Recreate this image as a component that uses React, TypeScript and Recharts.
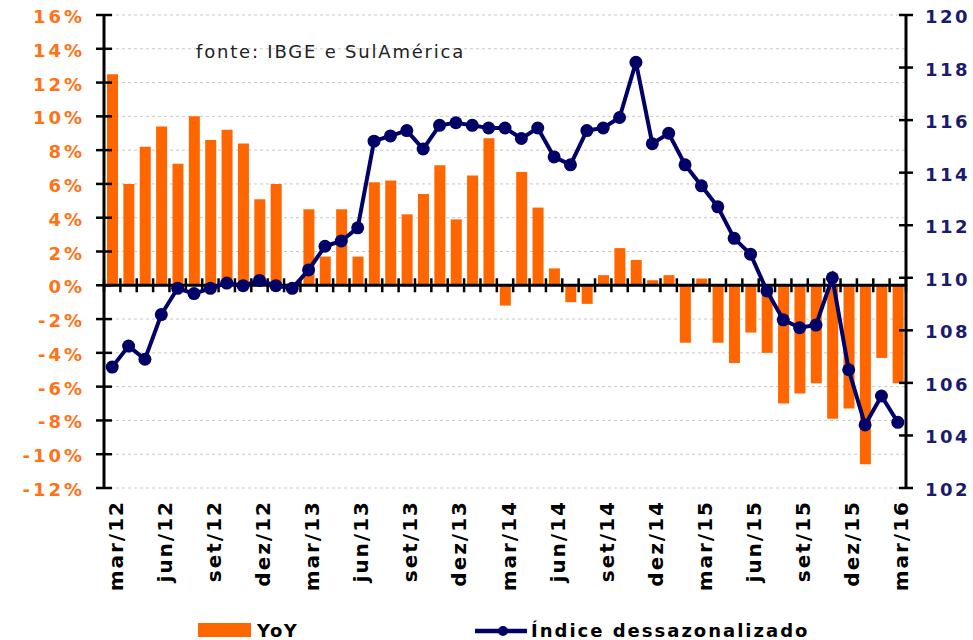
import React from 'react';
import { ComposedChart, Bar, Line, XAxis, YAxis, CartesianGrid, ReferenceLine } from 'recharts';

const months = [
  'mar/12', 'abr/12', 'mai/12', 'jun/12', 'jul/12', 'ago/12', 'set/12', 'out/12', 'nov/12', 'dez/12', 'jan/13', 'fev/13',
  'mar/13', 'abr/13', 'mai/13', 'jun/13', 'jul/13', 'ago/13', 'set/13', 'out/13', 'nov/13', 'dez/13', 'jan/14', 'fev/14',
  'mar/14', 'abr/14', 'mai/14', 'jun/14', 'jul/14', 'ago/14', 'set/14', 'out/14', 'nov/14', 'dez/14', 'jan/15', 'fev/15',
  'mar/15', 'abr/15', 'mai/15', 'jun/15', 'jul/15', 'ago/15', 'set/15', 'out/15', 'nov/15', 'dez/15', 'jan/16', 'fev/16',
  'mar/16',
];

// YoY, %
const yoy = [
  12.5, 6.0, 8.2, 9.4, 7.2, 10.0, 8.6, 9.2, 8.4, 5.1, 6.0, 0.1,
  4.5, 1.7, 4.5, 1.7, 6.1, 6.2, 4.2, 5.4, 7.1, 3.9, 6.5, 8.7,
  -1.2, 6.7, 4.6, 1.0, -1.0, -1.1, 0.6, 2.2, 1.5, 0.3, 0.6, -3.4,
  0.4, -3.4, -4.6, -2.8, -4.0, -7.0, -6.4, -5.8, -7.9, -7.3, -10.6, -4.3,
  -5.8,
];

// índice dessazonalizado
const indice = [
  106.6, 107.4, 106.9, 108.6, 109.6, 109.4, 109.6, 109.8, 109.7, 109.9, 109.7, 109.6,
  110.3, 111.2, 111.4, 111.9, 115.2, 115.4, 115.6, 114.9, 115.8, 115.9, 115.8, 115.7,
  115.7, 115.3, 115.7, 114.6, 114.3, 115.6, 115.7, 116.1, 118.2, 115.1, 115.5, 114.3,
  113.5, 112.7, 111.5, 110.9, 109.5, 108.4, 108.1, 108.2, 110.0, 106.5, 104.4, 105.5,
  104.5,
];

const leftTicks = [-12, -10, -8, -6, -4, -2, 0, 2, 4, 6, 8, 10, 12, 14, 16];
const rightTicks = [102, 104, 106, 108, 110, 112, 114, 116, 118, 120];

const data = months.map((m, i) => ({ month: m, yoy: yoy[i], indice: indice[i] }));

const ORANGE = '#FF6600';
const NAVY = '#000066';
const FONT = "'DejaVu Sans', Verdana, sans-serif";

const LeftTick = ({ x, y, payload }: any) => (
  <g>
    <line x1={x - 8} x2={x + 8} y1={y} y2={y} stroke="#000" strokeWidth={2.5} />
    <text x={x - 19} y={y + 8} textAnchor="end" fill="#FF7316" fontSize={18} fontWeight="bold"
      letterSpacing={3} fontFamily={FONT}>{payload.value}%</text>
  </g>
);

const RightTick = ({ x, y, payload }: any) => (
  <g>
    <line x1={x - 7} x2={x + 7} y1={y} y2={y} stroke="#000" strokeWidth={2.5} />
    <text x={x + 19} y={y + 8} textAnchor="start" fill="#1A1A6E" fontSize={18} fontWeight="bold"
      letterSpacing={2.5} fontFamily={FONT}>{payload.value}</text>
  </g>
);

const MonthTick = ({ x, y, payload }: any) => {
  const i = months.indexOf(payload.value);
  if (i % 3 !== 0) return null;
  const tx = x + 10.5;
  const ty = y + 12;
  return (
    <text x={tx} y={ty} transform={`rotate(-90, ${tx}, ${ty})`} textAnchor="end" fill="#000"
      fontSize={20} fontWeight="bold" letterSpacing={2} fontFamily={FONT}>{payload.value}</text>
  );
};

// linha do zero com marcas entre os meses
const ZeroAxis = (props: any) => {
  const { x1, x2, y1 } = props;
  const n = months.length;
  const step = (x2 - x1) / n;
  return (
    <g>
      <line x1={x1} x2={x2} y1={y1} y2={y1} stroke="#000" strokeWidth={3} />
      {Array.from({ length: n + 1 }, (_, i) => (
        <line key={i} x1={x1 + i * step} x2={x1 + i * step} y1={y1 - 7} y2={y1 + 7}
          stroke="#000" strokeWidth={2.5} />
      ))}
    </g>
  );
};

export default function App() {
  return (
    <div style={{ position: 'absolute', left: 0, top: 0, width: 973, height: 640, background: '#fff', overflow: 'hidden' }}>
      <ComposedChart width={973} height={640} data={data}
        margin={{ top: 15, right: 0, left: 0, bottom: 0 }}>
        <CartesianGrid yAxisId="left" vertical={false} stroke="#c8c8c8" strokeDasharray="3 3" />
        <XAxis dataKey="month" interval={0} height={152} axisLine={false} tickLine={false}
          tickSize={0} tickMargin={0} tick={<MonthTick />} />
        <YAxis yAxisId="left" domain={[-12, 16]} ticks={leftTicks} width={104} interval={0}
          axisLine={{ stroke: '#000', strokeWidth: 3 }} tickLine={false} tickSize={0} tickMargin={0}
          tick={<LeftTick />} />
        <YAxis yAxisId="right" orientation="right" domain={[102, 120]} ticks={rightTicks} width={67}
          interval={0} axisLine={{ stroke: '#000', strokeWidth: 3 }} tickLine={false} tickSize={0}
          tickMargin={0} tick={<RightTick />} />
        <Bar yAxisId="left" dataKey="yoy" fill={ORANGE} barSize={11} isAnimationActive={false} />
        <ReferenceLine yAxisId="left" y={0} shape={ZeroAxis} />
        <Line yAxisId="right" dataKey="indice" type="linear" stroke={NAVY} strokeWidth={4}
          dot={{ r: 6.5, fill: NAVY, stroke: NAVY, strokeWidth: 0 }} isAnimationActive={false} />
      </ComposedChart>

      <div style={{ position: 'absolute', left: 196, top: 43, fontFamily: FONT, fontSize: 18,
        lineHeight: '18px', letterSpacing: 1.8, color: '#222', whiteSpace: 'nowrap' }}>
        fonte: IBGE e SulAmérica
      </div>

      <svg style={{ position: 'absolute', left: 0, top: 600 }} width={973} height={40}>
        <rect x={198} y={23} width={53} height={14} fill={ORANGE} />
        <text x={257} y={37} fontFamily={FONT} fontSize={18} fontWeight="bold" letterSpacing={1.5}
          fill="#000">YoY</text>
        <line x1={475} x2={527} y1={31} y2={31} stroke={NAVY} strokeWidth={4.5} />
        <circle cx={503} cy={31} r={5} fill={NAVY} />
        <text x={531} y={37} fontFamily={FONT} fontSize={18} fontWeight="bold" letterSpacing={2}
          fill="#000">Índice dessazonalizado</text>
      </svg>
    </div>
  );
}
